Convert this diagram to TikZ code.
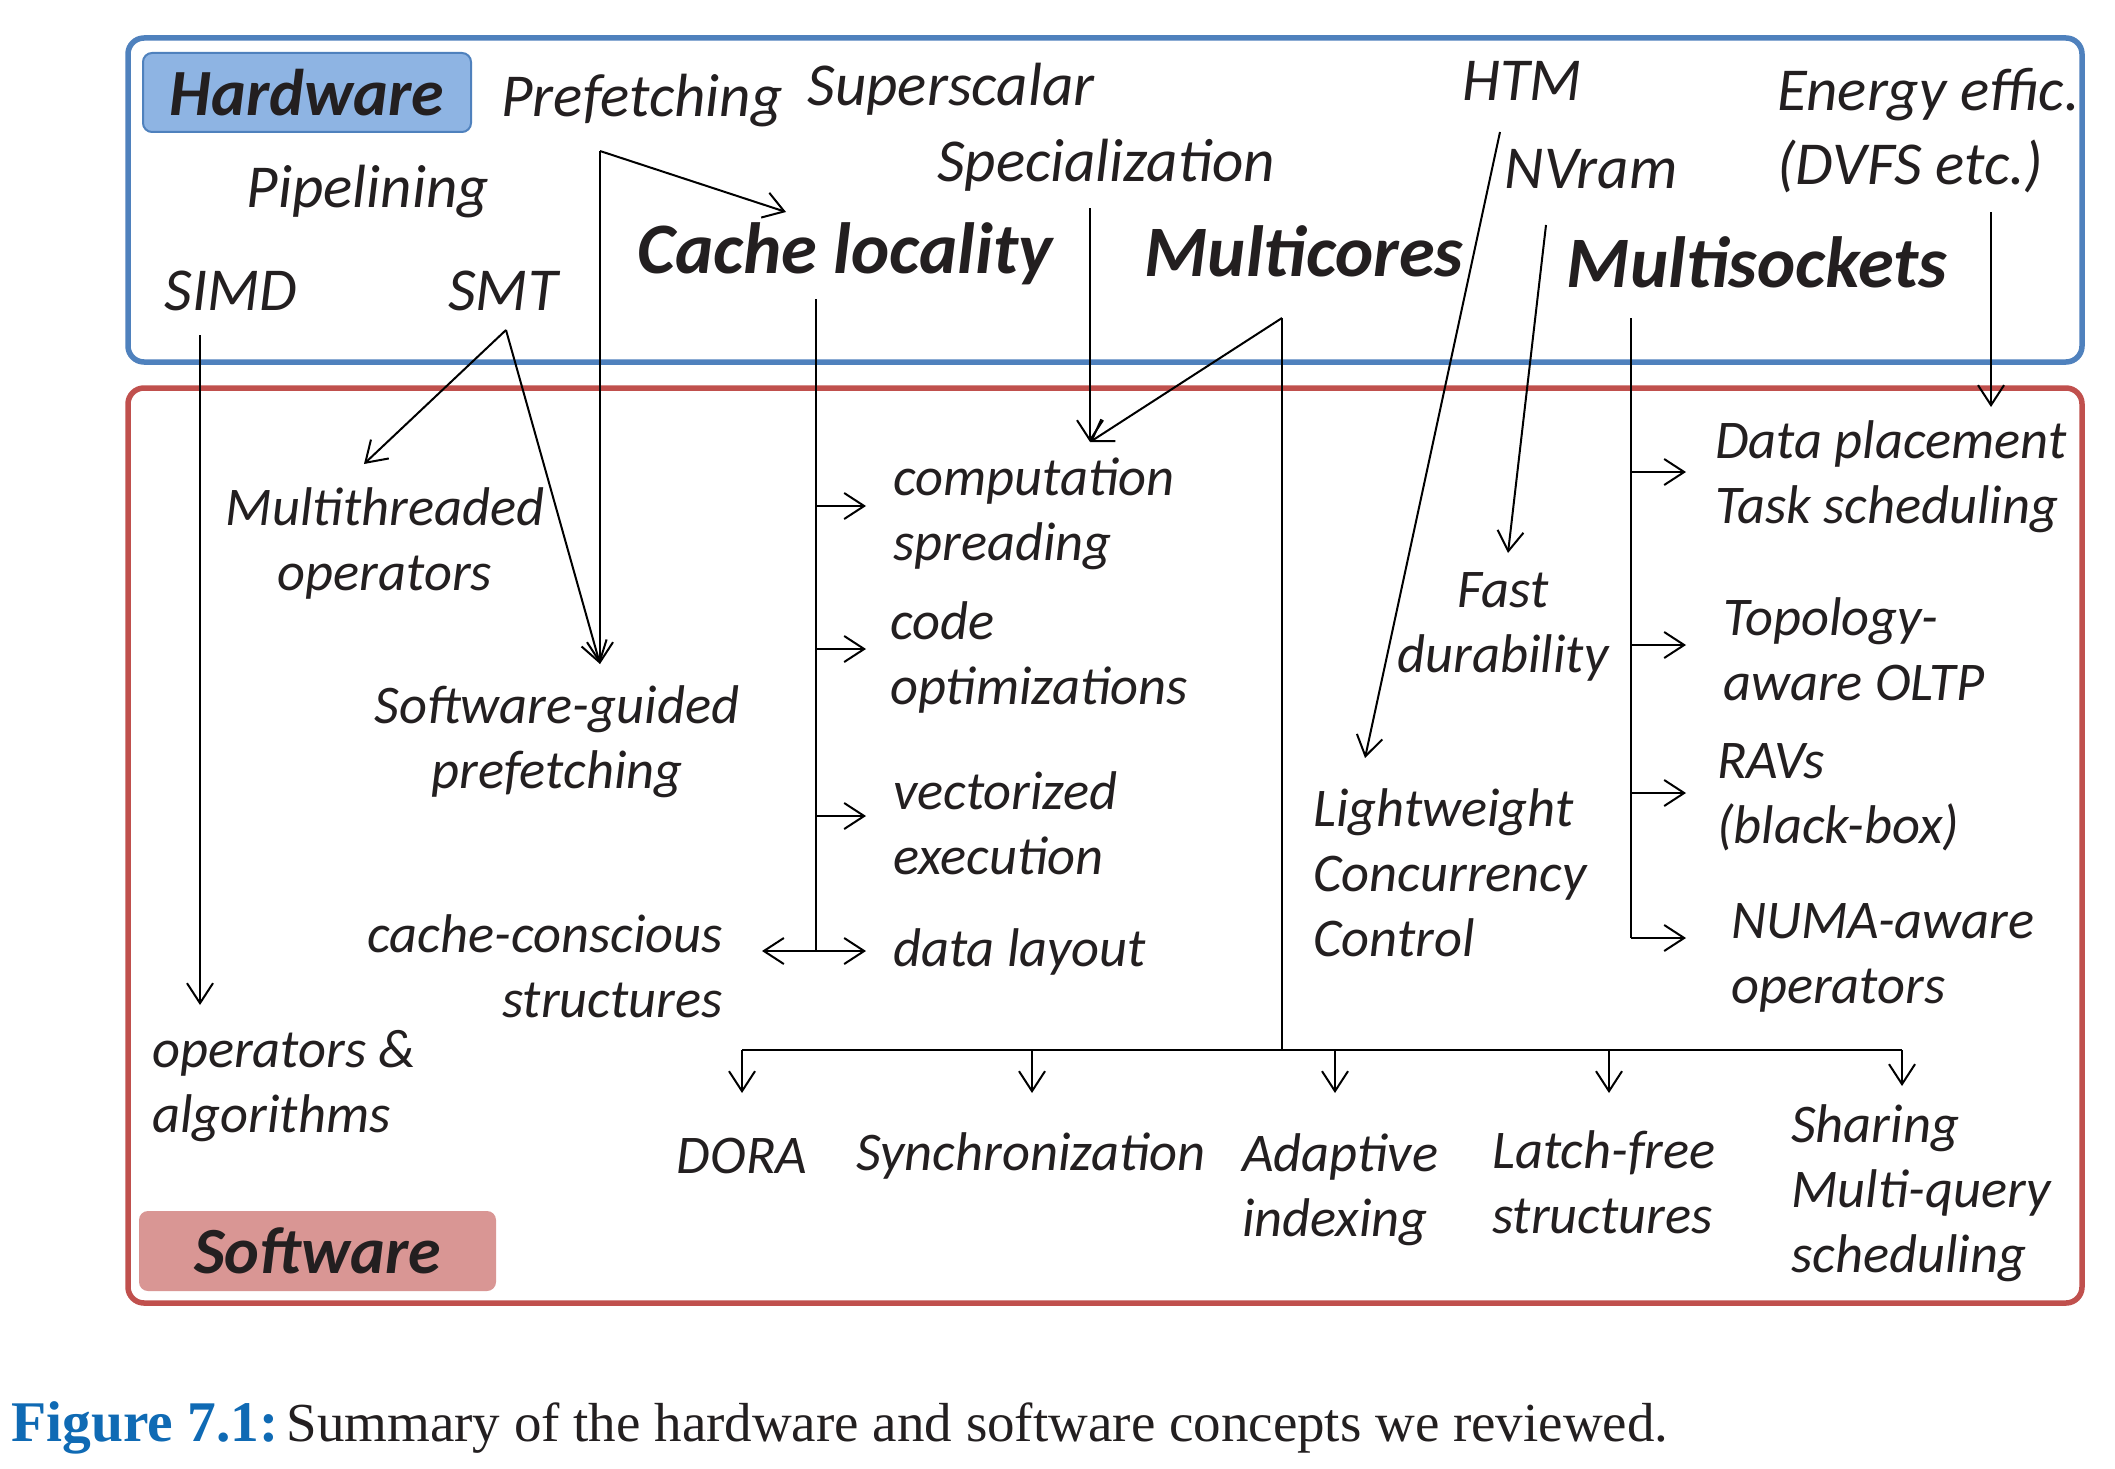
\documentclass[tikz,border=0pt]{standalone}
\usepackage{fontspec}
\setmainfont{Carlito}
\newfontfamily\capfont{Liberation Serif}
\usetikzlibrary{arrows.meta}
\definecolor{txt}{HTML}{231F20}
\definecolor{hwline}{HTML}{4F81BD}
\definecolor{hwfill}{HTML}{8EB4E3}
\definecolor{swline}{HTML}{C0504D}
\definecolor{swfill}{HTML}{D99694}
\definecolor{capblue}{HTML}{0F6AB4}
\tikzset{
  lbl/.style={font=\fontsize{54.5}{65}\selectfont\itshape, text=txt, inner sep=0pt},
  hwl/.style={font=\fontsize{61}{74}\selectfont\itshape, text=txt, inner sep=0pt},
  big/.style={font=\fontsize{72.5}{80}\selectfont\bfseries\itshape, text=txt, inner sep=0pt},
  tag/.style={font=\fontsize{66}{74}\selectfont\bfseries\itshape, text=txt, inner sep=0pt, rounded corners=9pt},
  conn/.style={line width=2pt, draw=black, -{Straight Barb[length=20pt,width=26pt,line width=2pt]}},
  both/.style={line width=2pt, draw=black, {Straight Barb[length=20pt,width=26pt,line width=2pt]}-{Straight Barb[length=20pt,width=26pt,line width=2pt]}},
  trunk/.style={line width=2.4pt, draw=black},
  frame/.style={line width=5.5pt, rounded corners=16pt}
}
\begin{document}
\begin{tikzpicture}[x=1pt,y=-1pt]
\useasboundingbox (0,0) rectangle (2115,1469);
\fill[white] (0,0) rectangle (2115,1469);

% frames
\draw[frame, draw=hwline] (128,38) rectangle (2082,362);
\draw[frame, draw=swline] (128,388) rectangle (2082,1303);

% tags
\node[tag, fill=hwfill, draw=hwline, line width=2pt, minimum width=328pt, minimum height=79pt] (hwtag) at (307,92.5) {Hardware};
\node[tag, fill=swfill, minimum width=357pt, minimum height=80pt] (swtag) at (317.5,1251) {Software};

% hardware texts
\node[hwl] (pref) at (642,101) {Prefetching};
\node[hwl] (sups) at (951,89) {Superscalar};
\node[hwl] (htm) at (1522,81) {HTM};
\node[hwl, anchor=west, align=left] (energy) at (1777,131) {Energy effic.\\(DVFS etc.)};
\node[hwl] (pipe) at (368,192) {Pipelining};
\node[hwl] (spec) at (1106,165) {Specialization};
\node[hwl] (nvram) at (1591,169) {NVram};
\node[hwl] (simd) at (231,291) {SIMD};
\node[hwl] (smt) at (503,291) {SMT};
\node[big] (cache) at (845,254) {Cache locality};
\node[big] (mcores) at (1304,251) {Multicores};
\node[big] (msock) at (1757,262) {Multisockets};

% software texts
\node[lbl, align=center] (mth) at (385,543) {Multithreaded\\operators};
\node[lbl, align=center] (sgp) at (557,742) {Software-guided\\prefetching};
\node[lbl, anchor=east, align=right] (ccs) at (723,966) {cache-conscious\\structures};
\node[lbl, anchor=west, align=left] (opalg) at (152,1086) {operators \&\\algorithms};
\node[lbl, anchor=west, align=left] (comp) at (893,514) {computation\\spreading};
\node[lbl, anchor=west, align=left] (code) at (890,657) {code\\optimizations};
\node[lbl, anchor=west, align=left] (vect) at (893,823) {vectorized\\execution};
\node[lbl, anchor=west] (dlay) at (893,952) {data layout};
\node[lbl, align=center] (fast) at (1503,627) {Fast\\durability};
\node[lbl, anchor=west, align=left] (lcc) at (1313,873) {Lightweight\\Concurrency\\Control};
\node[lbl, anchor=west, align=left] (dpts) at (1715,477) {Data placement\\Task scheduling};
\node[lbl, anchor=west, align=left] (topo) at (1723,649) {Topology-\\aware OLTP};
\node[lbl, anchor=west, align=left] (ravs) at (1717,797) {RAVs\\(black-box)};
\node[lbl, anchor=west, align=left] (numa) at (1731,958) {NUMA-aware\\operators};
\node[lbl] (dora) at (742,1156) {DORA};
\node[lbl] (sync) at (1031,1156) {Synchronization};
\node[lbl, anchor=west, align=left] (adap) at (1242,1190) {Adaptive\\indexing};
\node[lbl, anchor=west, align=left] (latch) at (1492,1182) {Latch-free\\structures};
\node[lbl, anchor=west, align=left] (share) at (1791,1193) {Sharing\\Multi-query\\scheduling};

% caption
\node[anchor=base west, inner sep=0pt, text=txt, font=\capfont\fontsize{55}{62}\selectfont] (cap) at (11,1441) {\textcolor{capblue}{\fontsize{57.5}{62}\selectfont\bfseries Figure 7.1:}\hspace{8pt}Summary of the hardware and software concepts we reviewed.};

% coordinates
\coordinate (simdA) at (200,335);
\coordinate (simdE) at (200,1005);
\coordinate (smtA) at (506,330);
\coordinate (smtE1) at (364,464);
\coordinate (sgpE) at (600,664);
\coordinate (prefA) at (600,151);
\coordinate (prefE) at (786,212);
\coordinate (cacheT) at (816,299);
\coordinate (cacheB) at (816,951);
\coordinate (cb1) at (816,506);
\coordinate (ce1) at (866,506);
\coordinate (cb2) at (816,649);
\coordinate (ce2) at (866,649);
\coordinate (cb3) at (816,816);
\coordinate (ce3) at (866,816);
\coordinate (ccL) at (762,951);
\coordinate (ccR) at (866,951);
\coordinate (specA) at (1090,208);
\coordinate (specE) at (1090,442);
\coordinate (mcA) at (1282,318);
\coordinate (mcB) at (1282,1050);
\coordinate (barL) at (742,1050);
\coordinate (barR) at (1902,1050);
\coordinate (b1) at (742,1093);
\coordinate (b2) at (1032,1050);
\coordinate (b2e) at (1032,1093);
\coordinate (b3) at (1335,1050);
\coordinate (b3e) at (1335,1093);
\coordinate (b4) at (1609,1050);
\coordinate (b4e) at (1609,1093);
\coordinate (b5e) at (1902,1086);
\coordinate (htmA) at (1500,132);
\coordinate (htmE) at (1365,758);
\coordinate (nvA) at (1546,225);
\coordinate (nvE) at (1508,553);
\coordinate (msT) at (1631,318);
\coordinate (msB) at (1631,938);
\coordinate (mb1) at (1631,472);
\coordinate (me1) at (1686,472);
\coordinate (mb2) at (1631,645);
\coordinate (me2) at (1686,645);
\coordinate (mb3) at (1631,793);
\coordinate (me3) at (1686,793);
\coordinate (me4) at (1686,938);
\coordinate (enA) at (1991,212);
\coordinate (enE) at (1991,407);

% connectors
\draw[conn] (simdA) -- (simdE);
\draw[conn] (smtA) -- (smtE1);
\draw[conn] (smtA) -- (sgpE);
\draw[conn] (prefA) -- (sgpE);
\draw[conn] (prefA) -- (prefE);
\draw[trunk] (cacheT) -- (cacheB);
\draw[conn] (cb1) -- (ce1);
\draw[conn] (cb2) -- (ce2);
\draw[conn] (cb3) -- (ce3);
\draw[both] (ccL) -- (ccR);
\draw[conn] (specA) -- (specE);
\draw[conn] (mcA) -- (specE);
\draw[trunk] (mcA) -- (mcB);
\draw[trunk] (barL) -- (barR);
\draw[conn] (barL) -- (b1);
\draw[conn] (b2) -- (b2e);
\draw[conn] (b3) -- (b3e);
\draw[conn] (b4) -- (b4e);
\draw[conn] (barR) -- (b5e);
\draw[conn] (htmA) -- (htmE);
\draw[conn] (nvA) -- (nvE);
\draw[trunk] (msT) -- (msB);
\draw[conn] (mb1) -- (me1);
\draw[conn] (mb2) -- (me2);
\draw[conn] (mb3) -- (me3);
\draw[conn] (msB) -- (me4);
\draw[conn] (enA) -- (enE);
\end{tikzpicture}
\end{document}
